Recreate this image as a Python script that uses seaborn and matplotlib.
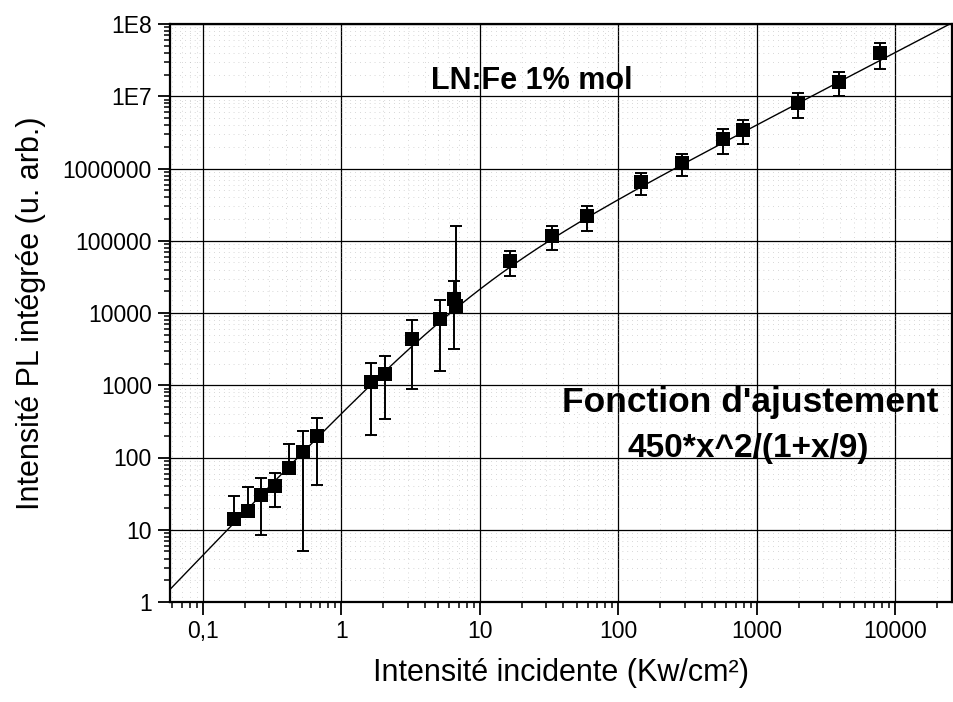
import numpy as np
import pandas as pd
import seaborn as sns
import matplotlib
matplotlib.use('Agg')
import matplotlib.pyplot as plt
from matplotlib.ticker import LogLocator, NullFormatter

# measured points: incident intensity (Kw/cm2), integrated PL, error (+/-)
intensity = [0.168, 0.210, 0.262, 0.330, 0.416, 0.525, 0.662,
             1.63, 2.05, 3.25, 5.14, 6.45, 6.75,
             16.6, 33.0, 58.9, 146, 287, 567, 789, 1977, 3920, 7740]
pl = [14.1, 18.3, 29.9, 40.6, 72, 118, 198,
      1104, 1425, 4385, 8280, 15600, 12500,
      52000, 117000, 219000, 655000, 1190000, 2550000, 3450000,
      8000000, 16000000, 39500000]
pl_err = [15, 21, 21.5, 20, 80, 113, 156,
          900, 1080, 3500, 6700, 12400, 148000,
          19000, 43000, 81000, 225000, 415000, 950000, 1250000,
          3000000, 5900000, 15500000]

# fit function shown on the chart: 450*x^2/(1+x/9)
fit_a = 450
fit_b = 9

x_ticks = [0.1, 1, 10, 100, 1000, 10000]
x_ticklabels = ['0,1', '1', '10', '100', '1000', '10000']
y_ticks = [1, 10, 100, 1000, 10000, 100000, 1000000, 1e7, 1e8]
y_ticklabels = ['1', '10', '100', '1000', '10000', '100000', '1000000', '1E7', '1E8']

sns.set_theme(style='ticks')
plt.rcParams['font.family'] = ['Liberation Sans', 'DejaVu Sans']
plt.rcParams['text.color'] = 'black'
plt.rcParams['axes.labelcolor'] = 'black'

df = pd.DataFrame({'x': intensity, 'y': pl, 'err': pl_err})
# errors are symmetric in linear units; a lower end below zero is not drawn on log axis
df['low'] = np.where(df['y'] - df['err'] > 0, df['err'], 0)

fig = plt.figure(figsize=(9.54, 7.02), dpi=100)
ax = fig.add_axes([170 / 954, 1 - 602 / 702, (952 - 170) / 954, (602 - 24) / 702])

xfit = np.geomspace(0.0578, 25600, 300)
yfit = fit_a * xfit ** 2 / (1 + xfit / fit_b)
sns.lineplot(x=xfit, y=yfit, ax=ax, color='black', lw=1.0, zorder=3)

ax.errorbar(df['x'], df['y'], yerr=[df['low'], df['err']], fmt='none',
            ecolor='black', elinewidth=1.4, capsize=4.5, capthick=1.4, zorder=4)
sns.scatterplot(data=df, x='x', y='y', ax=ax, marker='s', s=110, color='black',
                edgecolor='black', linewidth=0, zorder=5)

ax.set_xscale('log')
ax.set_yscale('log')
ax.set_xlim(0.0578, 25600)
ax.set_ylim(1, 1e8)

ax.set_xticks(x_ticks)
ax.set_xticklabels(x_ticklabels)
ax.set_yticks(y_ticks)
ax.set_yticklabels(y_ticklabels)
ax.xaxis.set_minor_locator(LogLocator(base=10, subs=np.arange(2, 10), numticks=20))
ax.yaxis.set_minor_locator(LogLocator(base=10, subs=np.arange(2, 10), numticks=20))
ax.xaxis.set_minor_formatter(NullFormatter())
ax.yaxis.set_minor_formatter(NullFormatter())

ax.grid(which='major', color='black', lw=0.9, ls='-')
ax.grid(which='minor', color='0.7', lw=0.5, ls=(0, (1, 6)))
ax.set_axisbelow(True)

ax.tick_params(which='both', top=False, right=False)
ax.tick_params(which='major', direction='out', length=9, width=1.3,
               labelsize=16.5, pad=4, colors='black')
ax.tick_params(which='minor', direction='out', length=4.5, width=1.1, colors='black')
for s in ax.spines.values():
    s.set_linewidth(1.6)
    s.set_color('black')

ax.set_xlabel('Intensité incidente (Kw/cm²)', fontsize=22, labelpad=11)
ax.set_ylabel('Intensité PL intégrée (u. arb.)', fontsize=22, labelpad=12)

ax.text(0.462, 0.901, 'LN:Fe 1% mol', transform=ax.transAxes, ha='center',
        va='center', fontsize=22, fontweight='bold', zorder=6)
ax.text(0.742, 0.346, "Fonction d'ajustement", transform=ax.transAxes,
        ha='center', va='center', fontsize=25.5, fontweight='bold', zorder=6)
ax.text(0.740, 0.266, '450*x^2/(1+x/9)', transform=ax.transAxes,
        ha='center', va='center', fontsize=24, fontweight='bold', zorder=6)

fig.savefig('out.png', dpi=100, facecolor='white')
plt.close(fig)
